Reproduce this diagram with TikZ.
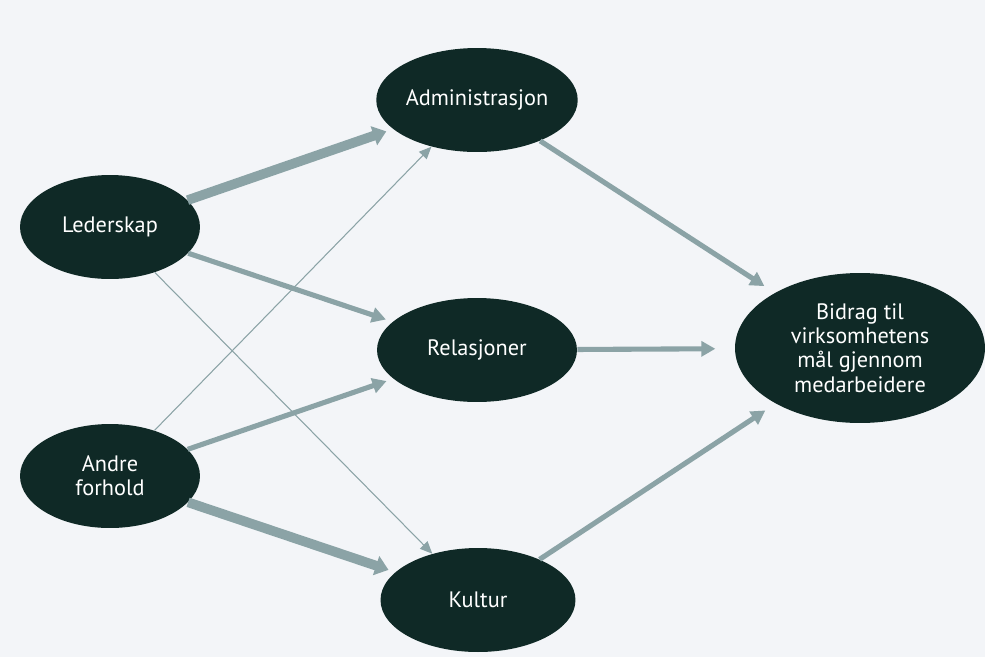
\documentclass[tikz,border=0pt]{standalone}
\usepackage{fontspec}
\setmainfont{PT Sans}
\usetikzlibrary{shapes.geometric,arrows.meta}
\definecolor{blobfill}{HTML}{0F2926}
\definecolor{linkgray}{HTML}{8BA3A6}
\definecolor{paper}{HTML}{F3F5F8}
\begin{document}
\begin{tikzpicture}[x=0.02cm,y=-0.02cm,every node/.style={font=\fontsize{12.7}{13.8}\selectfont}]
    \tikzset{
      blob/.style={ellipse,fill=blobfill,text=white,inner sep=0pt,align=center,
        minimum width=3.9cm,minimum height=2.08cm},
      fine/.style={linkgray,line width=0.6pt,-{Triangle[width=6pt,length=7pt]}},
      medium/.style={linkgray,line width=2.9pt,-{Triangle[width=8.5pt,length=8pt]}},
      heavy/.style={linkgray,line width=5.5pt,-{Triangle[width=11pt,length=7.5pt]}}
    }
    \fill[paper] (0,0) rectangle (985,657);
    \node[blob] (admin) at (477,100) {Administrasjon};
    \node[blob,minimum width=3.6cm] (leder) at (110,227) {Lederskap};
    \node[blob,minimum width=4cm] (rel) at (477,350) {Relasjoner};
    \node[blob,minimum width=3.6cm] (andre) at (110,476) {Andre\\forhold};
    \node[blob] (kultur) at (478,600) {Kultur};
    \node[blob,minimum width=5cm,minimum height=3cm] (bidrag) at (860,348)
      {Bidrag til\\virksomhetens\\mål gjennom\\medarbeidere};
    \draw[heavy,shorten >=4pt] (leder) -- (admin);
    \draw[medium,shorten >=4pt] (leder) -- (rel);
    \draw[fine] (leder) -- (kultur);
    \draw[fine] (andre) -- (admin);
    \draw[medium,shorten >=4pt] (andre) -- (rel);
    \draw[heavy,shorten >=4pt] (andre) -- (kultur);
    \draw[medium,shorten >=7pt] (admin) -- (bidrag);
    \draw[medium,shorten >=11pt] (rel) -- (bidrag);
    \draw[medium,shorten >=7pt] (kultur) -- (bidrag);
  \end{tikzpicture}
\end{document}
